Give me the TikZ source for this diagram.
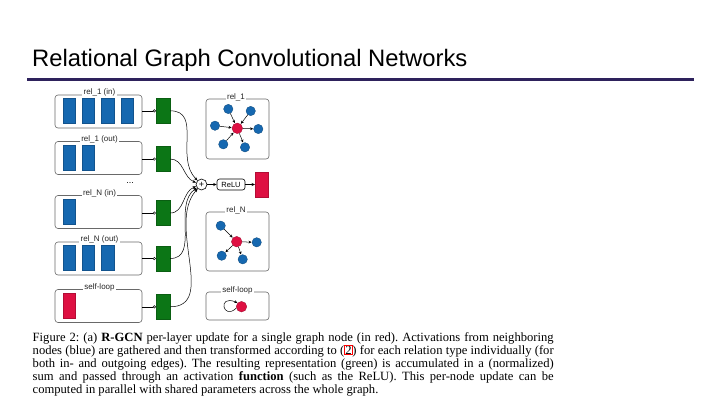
\documentclass[tikz,border=0pt]{standalone}
\usepackage{fontspec}
\setmainfont{Liberation Serif}
\setsansfont{Liberation Sans}
\usetikzlibrary{arrows.meta}
\definecolor{nblue}{RGB}{22,104,176}
\definecolor{ngreen}{RGB}{12,118,22}
\definecolor{nred}{RGB}{222,16,66}
\definecolor{rulec}{RGB}{46,34,92}
\definecolor{boxgray}{RGB}{105,105,105}
\begin{document}
\begin{tikzpicture}[x=1pt,y=-1pt,
  relbox/.style={draw=boxgray, rounded corners=3pt, line width=0.6pt, minimum width=87pt, minimum height=33pt, inner sep=0pt},
  graphbox/.style={draw=boxgray, rounded corners=3pt, line width=0.6pt, minimum width=63pt, inner sep=0pt},
  boxlabel/.style={fill=white, text=black!85, font=\sffamily\fontsize{8}{9}\selectfont, inner sep=1.5pt},
  vecblue/.style={fill=nblue, draw=nblue!80!black, line width=0.3pt, minimum width=12.3pt, minimum height=25pt, inner sep=0pt},
  vecred/.style={fill=nred, draw=nred!80!black, line width=0.3pt, minimum width=12.3pt, minimum height=25pt, inner sep=0pt},
  vecgreen/.style={fill=ngreen, draw=ngreen!80!black, line width=0.3pt, minimum width=14pt, minimum height=25pt, inner sep=0pt},
  gblue/.style={circle, fill=nblue, draw=nblue!70!black, line width=0.3pt, minimum size=9.4pt, inner sep=0pt},
  gred/.style={circle, fill=nred, draw=nred!70!black, line width=0.3pt, minimum size=10.6pt, inner sep=0pt},
  feed/.style={line width=0.5pt, -{Circle[open, length=3pt, width=3pt]}},
  curve/.style={line width=0.5pt, -{Stealth[length=3.5pt, width=3pt]}},
  gedge/.style={line width=0.5pt, -{Stealth[length=3pt, width=2.8pt]}, shorten >=0.3pt},
  flow/.style={line width=0.6pt, -{Stealth[length=3.5pt, width=3pt]}}
]
\useasboundingbox (0,0) rectangle (720,405);
\fill[white] (0,0) rectangle (720,405);

% title and rule
\node[anchor=base west, inner sep=0pt, font=\sffamily\fontsize{23.8}{26}\selectfont] (title) at (32,66) {Relational Graph Convolutional Networks};
\coordinate (rl) at (27,79);
\coordinate (rr) at (694,79);
\draw[rulec, line width=3pt] (rl) -- (rr);

% left relation boxes
\node[relbox] (b1) at (98.5,111.5) {};
\node[relbox] (b2) at (98.5,158) {};
\node[relbox] (b3) at (98.5,212) {};
\node[relbox] (b4) at (98.5,258.5) {};
\node[relbox] (b5) at (98.5,306) {};
\node[boxlabel] (l1) at (99.5,92.5) {rel\_1 (in)};
\node[boxlabel] (l2) at (99.5,139) {rel\_1 (out)};
\node[boxlabel] (l3) at (99.5,193) {rel\_N (in)};
\node[boxlabel] (l4) at (99.5,239.5) {rel\_N (out)};
\node[boxlabel] (l5) at (99.5,287) {self-loop};
\node[font=\sffamily\fontsize{9}{9}\selectfont, inner sep=0pt] (dots) at (130,183) {...};

% vectors
\node[vecblue] (v11) at (68.8,110.5) {};
\node[vecblue] (v12) at (88.2,110.5) {};
\node[vecblue] (v13) at (107.6,110.5) {};
\node[vecblue] (v14) at (127,110.5) {};
\node[vecblue] (v21) at (68.8,157.5) {};
\node[vecblue] (v22) at (88.2,157.5) {};
\node[vecblue] (v31) at (68.8,211.5) {};
\node[vecblue] (v41) at (68.8,258) {};
\node[vecblue] (v42) at (88.2,258) {};
\node[vecblue] (v43) at (107.6,258) {};
\node[vecred] (v51) at (68.8,305.5) {};

% green transformed vectors
\node[vecgreen] (g1) at (163,110.8) {};
\node[vecgreen] (g2) at (163,159) {};
\node[vecgreen] (g3) at (163,213) {};
\node[vecgreen] (g4) at (163,258.5) {};
\node[vecgreen] (g5) at (163,306.8) {};
\draw[feed] (b1.east |- g1) -- (g1.west);
\draw[feed] (b2.east |- g2) -- (g2.west);
\draw[feed] (b3.east |- g3) -- (g3.west);
\draw[feed] (b4.east |- g4) -- (g4.west);
\draw[feed] (b5.east |- g5) -- (g5.west);

% sum, ReLU, output
\node[circle, draw, line width=0.6pt, minimum size=11pt, inner sep=0pt, font=\sffamily\fontsize{9}{9}\selectfont] (sum) at (201.5,184.5) {+};
\node[draw, rounded corners=2.5pt, line width=0.6pt, minimum width=28pt, minimum height=11pt, inner sep=0pt, font=\sffamily\fontsize{7.5}{8}\selectfont] (relu) at (231,184.5) {ReLU};
\node[vecred, minimum width=13pt] (out) at (261.7,184.5) {};
\draw[flow] (sum.east) -- (relu.west);
\draw[flow] (relu.east) -- (out.west);

\draw[curve] (g1.east) to[out=0, in=135, looseness=1.1] (sum);
\draw[curve] (g2.east) to[out=0, in=160, looseness=1] (sum);
\draw[curve] (g3.east) to[out=0, in=200, looseness=1] (sum);
\draw[curve] (g4.east) to[out=0, in=215, looseness=1] (sum);
\draw[curve] (g5.east) to[out=0, in=228, looseness=1] (sum);

% right graph boxes
\node[graphbox, minimum height=60pt] (gb1) at (237.5,129) {};
\node[graphbox, minimum height=59pt] (gb2) at (237.5,241.5) {};
\node[graphbox, minimum height=28pt] (gb3) at (237.5,306) {};
\node[boxlabel] (gl1) at (236,97) {rel\_1};
\node[boxlabel] (gl2) at (236,210) {rel\_N};
\node[boxlabel] (gl3) at (237.5,290) {self-loop};

% rel_1 graph
\node[gred] (r1) at (237.3,128.3) {};
\node[gblue] (a1) at (228.3,109) {};
\node[gblue] (a2) at (250.7,111) {};
\node[gblue] (a3) at (215,125.7) {};
\node[gblue] (a4) at (258.3,129) {};
\node[gblue] (a5) at (223.3,144.3) {};
\node[gblue] (a6) at (245,147.3) {};
\draw[gedge] (a1) -- (r1);
\draw[gedge] (a2) -- (r1);
\draw[gedge] (a3) -- (r1);
\draw[gedge] (a5) -- (r1);
\draw[gedge] (r1) -- (a4);
\draw[gedge] (r1) -- (a6);

% rel_N graph
\node[gred] (r2) at (236.7,241.7) {};
\node[gblue] (c1) at (220.7,225.7) {};
\node[gblue] (c2) at (256.7,242.3) {};
\node[gblue] (c3) at (221.7,255.7) {};
\node[gblue] (c4) at (242.7,259.3) {};
\draw[gedge] (c1) -- (r2);
\draw[gedge] (r2) -- (c2);
\draw[gedge] (r2) -- (c3);
\draw[gedge] (r2) -- (c4);

% self-loop graph
\node[gred] (r3) at (241.5,306.7) {};
\draw[gedge] (r3.195) .. controls (223,321) and (217,294) .. (r3.135);

% caption
\node[anchor=north west, inner sep=0pt, font=\fontsize{12.6}{13}\selectfont] (cap) at (32.5,332) {%
\begin{minipage}{521pt}\frenchspacing\setlength{\fboxsep}{0.4pt}\setlength{\fboxrule}{0.5pt}%
\hbox to 521pt{Figure 2: (a) \textbf{R-GCN} per-layer update for a single graph node (in red). Activations from neighboring}
\hbox to 521pt{nodes (blue) are gathered and then transformed according to (\fcolorbox{red}{white}{2}) for each relation type individually (for}
\hbox to 521pt{both in- and outgoing edges). The resulting representation (green) is accumulated in a (normalized)}
\hbox to 521pt{sum and passed through an activation \textbf{function} (such as the ReLU). This per-node update can be}
\hbox{computed in parallel with shared parameters across the whole graph.}
\end{minipage}};
\end{tikzpicture}
\end{document}
